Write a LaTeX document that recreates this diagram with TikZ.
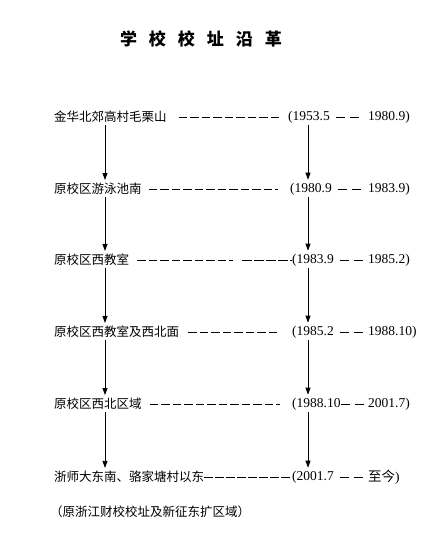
\documentclass[tikz,border=0pt]{standalone}
\usepackage{fontspec}
\setmainfont{Liberation Serif}
\newfontfamily\cjk{Noto Sans CJK SC}
\usetikzlibrary{arrows.meta}
\begin{document}
\begin{tikzpicture}[x=1pt,y=-1pt,
  place/.style={anchor=west,inner sep=0pt,font=\cjk\fontsize{12.5}{14}\selectfont},
  datet/.style={anchor=west,inner sep=0pt,font=\fontsize{13.5}{15}\selectfont},
  link/.style={dash pattern=on 8.5pt off 3pt,line width=0.8pt},
  pair/.style={dash pattern=on 9pt off 5pt on 9pt off 60pt,line width=0.8pt},
  arr/.style={-{Triangle[width=5pt,length=7pt]},line width=0.8pt,shorten <=2pt,shorten >=3pt}]
\useasboundingbox[fill=white] (0,0) rectangle (445,558);
\node[font=\cjk\bfseries\fontsize{17}{20}\selectfont] (title) at (201,39) {学\hspace{12pt}校\hspace{12pt}校\hspace{12pt}址\hspace{12pt}沿\hspace{12pt}革};
\coordinate (lx) at (105,0);
\coordinate (rx) at (308,0);
% places
\node[place] (p1) at (54,117) {金华北郊高村毛栗山};
\node[place] (p2) at (54,189) {原校区游泳池南};
\node[place] (p3) at (54,260) {原校区西教室};
\node[place] (p4) at (54,332) {原校区西教室及西北面};
\node[place] (p5) at (54,404) {原校区西北区域};
\node[place] (p6) at (54,477) {浙师大东南、骆家塘村以东};
\node[place] (note) at (50,512) {（原浙江财校校址及新征东扩区域）};
% start dates
\node[datet] (s1) at (288,117) {(1953.5};
\node[datet] (s2) at (290,189) {(1980.9};
\node[datet] (s3) at (292,260) {(1983.9};
\node[datet] (s4) at (292,332) {(1985.2};
\node[datet] (s5) at (292,404) {(1988.10};
\node[datet] (s6) at (292,477) {(2001.7};
% end dates
\node[datet] (e1) at (368,117) {1980.9)};
\node[datet] (e2) at (368,189) {1983.9)};
\node[datet] (e3) at (368,260) {1985.2)};
\node[datet] (e4) at (368,332) {1988.10)};
\node[datet] (e5) at (368,404) {2001.7)};
\node[datet] (e6) at (368,477) {{\cjk 至今})};
% dashed leaders
\draw[link,shorten <=12pt,shorten >=8pt] (p1.east) -- (s1.west);
\draw[link,shorten <=7pt,shorten >=12pt] (p2.east) -- (s2.west);
\coordinate (g3a) at (233,260);
\coordinate (g3b) at (242,260);
\draw[link,shorten <=8pt] (p3.east) -- (g3a);
\draw[link,dash pattern=on 10pt off 2pt] (g3b) -- (s3.west);
\draw[link,shorten <=9pt,shorten >=12pt] (p4.east) -- (s4.west);
\draw[link,shorten <=8pt,shorten >=12pt] (p5.east) -- (s5.west);
\draw[link,dash pattern=on 9pt off 2pt] (p6.east) -- (s6.west);
\foreach \i in {1,2,3,4,6}{
  \draw[pair,shorten <=6pt,shorten >=4pt] (s\i.east) -- (e\i.west);
}
\draw[pair,shorten >=4pt] (s5.east) -- (e5.west);
% arrows
\foreach \i/\j in {1/2,2/3,3/4,4/5,5/6}{
  \draw[arr] (p\i.south -| lx) -- (p\j.north -| lx);
  \draw[arr] (s\i.south -| rx) -- (s\j.north -| rx);
}
\end{tikzpicture}
\end{document}
